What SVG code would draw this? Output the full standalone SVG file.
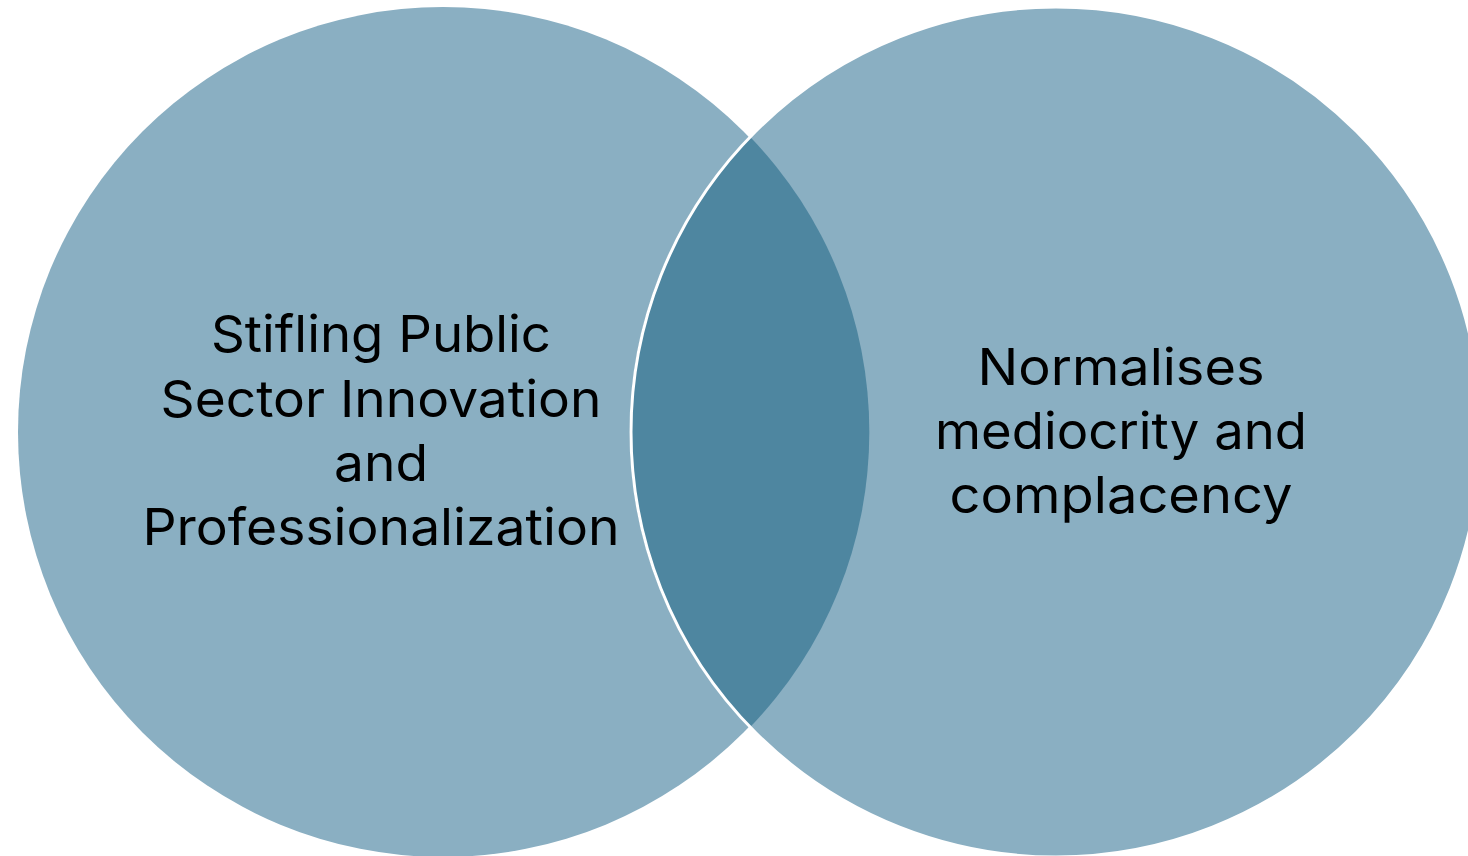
<svg xmlns="http://www.w3.org/2000/svg" width="1468" height="856" viewBox="0 0 1468 856">
  <style>
    .set { fill: #8AAFC2; }
    .overlap { fill: #4E86A0; }
    .edge { fill: none; stroke: #FFFFFF; stroke-width: 3; }
    .label { font-family: "Inter", "Liberation Sans", sans-serif; font-size: 51px; fill: #000000; text-anchor: middle; font-variant-ligatures: none; }
  </style>
  <rect width="1468" height="856" fill="#FFFFFF"/>

  <!-- left set -->
  <g id="node-left">
    <circle class="set" cx="443" cy="432" r="425"/>
  </g>

  <!-- right set -->
  <g id="node-right">
    <circle class="set" cx="1056" cy="432" r="425"/>
  </g>

  <!-- intersection of the two sets -->
  <g id="node-overlap">
    <path class="overlap" d="M 749.5 136.2 A 425 425 0 0 1 749.5 727.8 A 425 425 0 0 1 749.5 136.2 Z"/>
    <circle class="edge" cx="1056" cy="432" r="425"/>
  </g>

  <g id="connectors"></g>

  <g id="labels">
    <text class="label" x="381" y="352" textLength="340" lengthAdjust="spacingAndGlyphs">Stifling Public</text>
    <text class="label" x="381" y="417" textLength="441" lengthAdjust="spacingAndGlyphs">Sector Innovation</text>
    <text class="label" x="381" y="481" textLength="94" lengthAdjust="spacingAndGlyphs">and</text>
    <text class="label" x="381" y="545" textLength="477" lengthAdjust="spacingAndGlyphs">Professionalization</text>

    <text class="label" x="1121" y="385" textLength="287" lengthAdjust="spacingAndGlyphs">Normalises</text>
    <text class="label" x="1121" y="449" textLength="372" lengthAdjust="spacingAndGlyphs">mediocrity and</text>
    <text class="label" x="1121" y="513" textLength="343" lengthAdjust="spacingAndGlyphs">complacency</text>
  </g>
</svg>
